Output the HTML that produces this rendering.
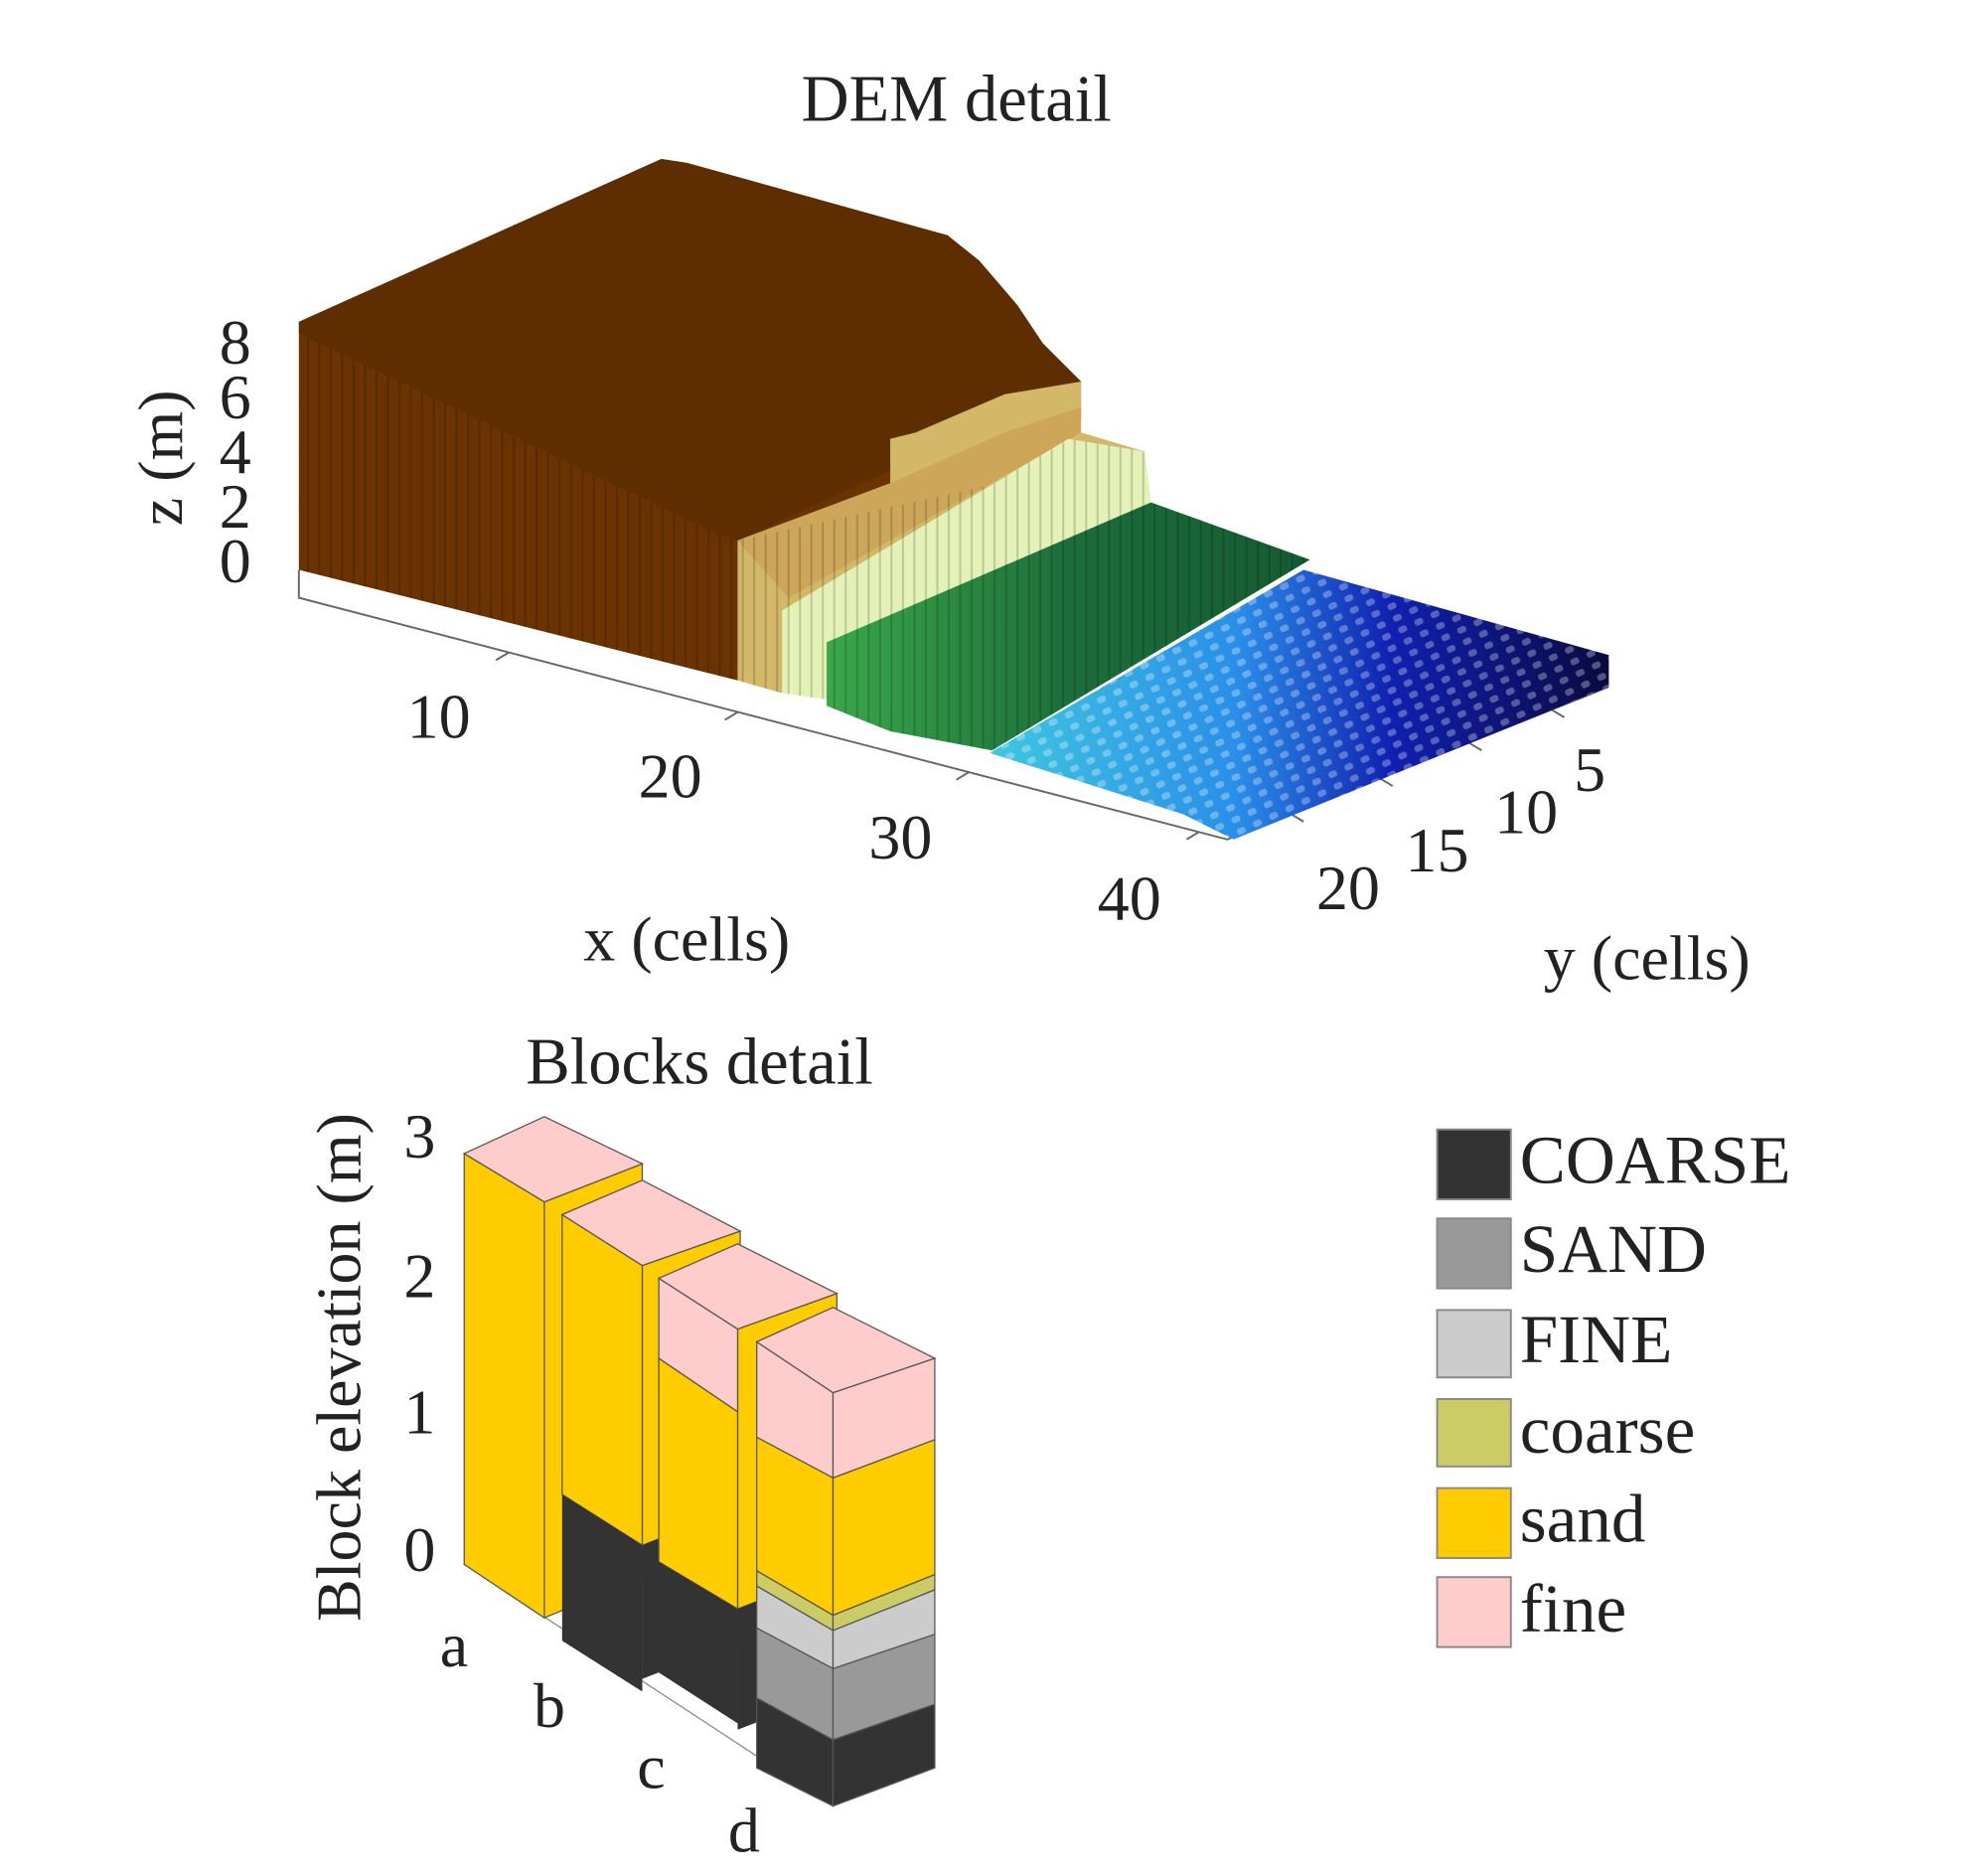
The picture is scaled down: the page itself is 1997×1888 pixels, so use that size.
<!DOCTYPE html>
<html><head><meta charset="utf-8"><style>html,body{margin:0;padding:0;background:#fff}svg{display:block}</style></head>
<body>
<svg width="1997" height="1888" viewBox="0 0 1560 1475" preserveAspectRatio="none" xmlns="http://www.w3.org/2000/svg" font-family="'Liberation Serif', serif" fill="#222">
<defs>
<pattern id="bars" width="9" height="14" patternUnits="userSpaceOnUse"><rect width="9" height="14" fill="none"/><line x1="8" y1="0" x2="8" y2="14" stroke="#000" stroke-opacity="0.18" stroke-width="1.5"/></pattern>
<pattern id="dots" width="14" height="10" patternUnits="userSpaceOnUse" patternTransform="rotate(-25)"><rect x="3" y="2" width="7" height="5" rx="2" fill="#fff" fill-opacity="0.3"/></pattern>
<linearGradient id="blue" x1="0" y1="0" x2="1" y2="0"><stop offset="0" stop-color="#3fc7e0"/><stop offset="0.4" stop-color="#2a8ee8"/><stop offset="0.65" stop-color="#1020b0"/><stop offset="1" stop-color="#0a0a40"/></linearGradient>
<linearGradient id="green" x1="0" y1="0" x2="1" y2="0"><stop offset="0" stop-color="#3aa84a"/><stop offset="0.5" stop-color="#1d6e3a"/><stop offset="1" stop-color="#155a30"/></linearGradient>
</defs>

<text x="752" y="95" font-size="52" text-anchor="middle">DEM detail</text>

<!-- floor -->
<polygon points="235,448 235,470 965,660 1265,540 1265,515" fill="#fff"/>
<polyline points="235,448 235,470 965,660 1265,540" fill="none" stroke="#666" stroke-width="1.5"/>
<g stroke="#666" stroke-width="1.5">
<line x1="400" y1="513" x2="390" y2="519"/><line x1="580" y1="560" x2="570" y2="566"/><line x1="762" y1="607" x2="752" y2="613"/><line x1="943" y1="654" x2="933" y2="660"/>
<line x1="1220" y1="558" x2="1230" y2="564"/><line x1="1155" y1="584" x2="1165" y2="590"/><line x1="1085" y1="612" x2="1095" y2="618"/><line x1="1015" y1="640" x2="1025" y2="646"/>
<line x1="235" y1="270" x2="243" y2="270"/><line x1="235" y1="313" x2="243" y2="313"/><line x1="235" y1="356" x2="243" y2="356"/><line x1="235" y1="399" x2="243" y2="399"/><line x1="235" y1="442" x2="243" y2="442"/>
</g>

<!-- brown block -->
<polygon points="235,253 520,125 540,128 745,185 770,205 800,240 820,270 850,300 850,330 790,340 700,380 580,425 580,535 235,448" fill="#6a3300"/>
<polygon points="235,253 520,125 540,128 745,185 770,205 800,240 820,270 850,300 580,425 560,418 235,262" fill="#5e2d00"/>
<polygon points="235,262 560,418 580,425 580,535 235,448" fill="url(#bars)"/>

<!-- tan region -->
<polygon points="580,425 700,380 700,345 720,340 790,310 850,300 850,340 900,355 900,380 620,480 615,545 580,535" fill="#d2b868"/>
<polygon points="580,425 700,380 790,340 850,320 850,340 620,470" fill="#c99a50" fill-opacity="0.6"/>
<polygon points="580,425 900,355 900,380 620,480 615,545 580,535" fill="url(#bars)"/>
<!-- pale region -->
<polygon points="615,480 840,345 900,355 905,395 655,505 650,550 615,545" fill="#e4f2b8"/>
<polygon points="615,480 840,345 900,355 905,395 655,505 650,550 615,545" fill="url(#bars)"/>
<!-- green region -->
<polygon points="650,505 905,395 1030,440 780,590 700,575 650,555" fill="url(#green)"/>
<polygon points="650,505 905,395 1030,440 780,590 700,575 650,555" fill="url(#bars)"/>
<!-- blue region -->
<polygon points="778,592 1025,448 1265,515 1265,540 970,660 930,640" fill="url(#blue)"/>
<polygon points="778,592 1025,448 1265,515 1265,540 970,660 930,640" fill="url(#dots)"/>

<!-- DEM labels -->
<g font-size="50" text-anchor="middle">
<text x="345" y="580">10</text><text x="527" y="627">20</text><text x="708" y="675">30</text><text x="888" y="723">40</text>
<text x="1250" y="622">5</text><text x="1200" y="655">10</text><text x="1130" y="685">15</text><text x="1060" y="715">20</text>
<text x="540" y="755">x (cells)</text><text x="1295" y="770">y (cells)</text>
</g>
<g font-size="50" text-anchor="middle">
<text x="185" y="286">8</text><text x="185" y="329">6</text><text x="185" y="372">4</text><text x="185" y="415">2</text><text x="185" y="458">0</text>
</g>
<text transform="translate(143,360) rotate(-90)" font-size="50" text-anchor="middle">z (m)</text>

<!-- Blocks detail -->
<text x="550" y="852" font-size="52" text-anchor="middle">Blocks detail</text>
<g font-size="50" text-anchor="middle">
<text x="330" y="910">3</text><text x="330" y="1020">2</text><text x="330" y="1127">1</text><text x="330" y="1235">0</text>
<text x="357" y="1310">a</text><text x="432" y="1358">b</text><text x="512" y="1406">c</text><text x="585" y="1456">d</text>
</g>
<text transform="translate(283,1075) rotate(-90)" font-size="50" text-anchor="middle">Block elevation (m)</text>
<polyline points="365,1230 655,1420" fill="none" stroke="#888" stroke-width="1"/>

<g stroke="#555" stroke-width="1">
<!-- a -->
<polygon points="428,945 505,915 505,1240 428,1272" fill="#ffcc00"/>
<polygon points="365,907 428,945 428,1272 365,1230" fill="#ffcc00"/>
<polygon points="365,907 428,878 505,915 428,945" fill="#ffcccc"/>
<!-- b -->
<polygon points="505,995 582,968 582,1185 505,1215" fill="#ffcc00"/>
<polygon points="505,1215 582,1185 582,1290 505,1320" fill="#333" stroke="none"/>
<polygon points="442,955 505,995 505,1215 442,1175" fill="#ffcc00"/>
<polygon points="442,1175 505,1215 505,1330 442,1290" fill="#333" stroke="none"/>
<polygon points="442,955 505,928 582,968 505,995" fill="#ffcccc"/>
<!-- c -->
<polygon points="580,1045 658,1017 658,1235 580,1265" fill="#ffcc00"/>
<polygon points="580,1265 658,1235 658,1330 580,1360" fill="#333" stroke="none"/>
<polygon points="518,1005 580,1045 580,1110 518,1068" fill="#ffcccc"/>
<polygon points="518,1068 580,1110 580,1265 518,1228" fill="#ffcc00"/>
<polygon points="518,1228 580,1265 580,1355 518,1315" fill="#333" stroke="none"/>
<polygon points="518,1005 580,978 658,1017 580,1045" fill="#ffcccc"/>
<!-- d left face -->
<polygon points="595,1055 655,1095 655,1162 595,1130" fill="#ffcccc"/>
<polygon points="595,1130 655,1162 655,1270 595,1235" fill="#ffcc00"/>
<polygon points="595,1235 655,1270 655,1282 595,1247" fill="#cccc66"/>
<polygon points="595,1247 655,1282 655,1312 595,1280" fill="#cccccc"/>
<polygon points="595,1280 655,1312 655,1368 595,1335" fill="#999999"/>
<polygon points="595,1335 655,1368 655,1420 595,1390" fill="#333"/>
<!-- d right face -->
<polygon points="655,1095 735,1068 735,1132 655,1162" fill="#ffcccc"/>
<polygon points="655,1162 735,1132 735,1238 655,1270" fill="#ffcc00"/>
<polygon points="655,1270 735,1238 735,1250 655,1282" fill="#cccc66"/>
<polygon points="655,1282 735,1250 735,1285 655,1312" fill="#cccccc"/>
<polygon points="655,1312 735,1285 735,1340 655,1368" fill="#999999"/>
<polygon points="655,1368 735,1340 735,1390 655,1420" fill="#333"/>
<polygon points="595,1055 655,1028 735,1068 655,1095" fill="#ffcccc"/>
</g>

<!-- legend -->
<g stroke="#888" stroke-width="1.5">
<rect x="1130" y="888" width="58" height="55" fill="#333"/>
<rect x="1130" y="958" width="58" height="55" fill="#999"/>
<rect x="1130" y="1030" width="58" height="53" fill="#ccc"/>
<rect x="1130" y="1100" width="58" height="53" fill="#cccc66"/>
<rect x="1130" y="1170" width="58" height="55" fill="#ffcc00"/>
<rect x="1130" y="1240" width="58" height="55" fill="#ffcccc"/>
</g>
<g font-size="54">
<text x="1195" y="930">COARSE</text>
<text x="1195" y="1000">SAND</text>
<text x="1195" y="1071">FINE</text>
<text x="1195" y="1142">coarse</text>
<text x="1195" y="1212">sand</text>
<text x="1195" y="1283">fine</text>
</g>
</svg>
</body></html>
